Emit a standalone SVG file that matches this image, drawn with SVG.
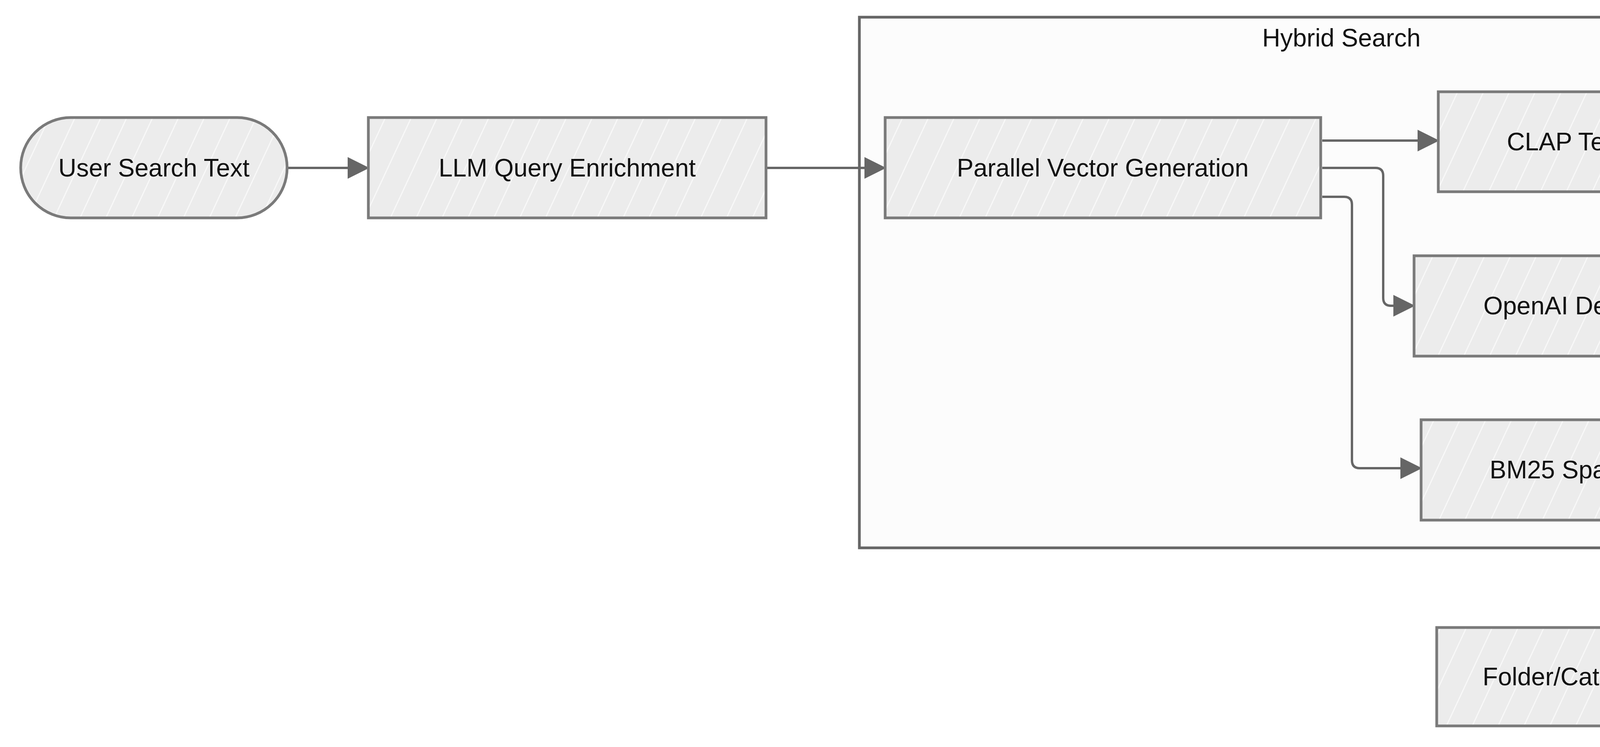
<svg xmlns="http://www.w3.org/2000/svg" width="6940" height="1913" viewBox="0 0 6940 1913">
<style>
.n{fill:url(#h);stroke:#7a7a7a;stroke-width:7}
.t{font-family:"Liberation Sans",Arial,sans-serif;font-size:64px;fill:#111;text-anchor:middle;dominant-baseline:central}
.c{fill:none;stroke:#666;stroke-width:6}
</style>
<defs>
<pattern id="h" width="60" height="60" patternUnits="userSpaceOnUse" patternTransform="rotate(25)">
<rect width="60" height="60" fill="#ececec"/>
<line x1="0" y1="0" x2="0" y2="60" stroke="#f8f8f8" stroke-width="6"/>
</pattern>
<marker id="a" viewBox="0 0 10 10" refX="9" refY="5" markerWidth="56" markerHeight="56" markerUnits="userSpaceOnUse" orient="auto">
<path d="M0,0L10,5L0,10z" fill="#666"/>
</marker>
</defs>
<rect width="6940" height="1913" fill="#fff"/>
<g id="hybrid-search">
<rect x="2200" y="44" width="2461" height="1359" fill="#fcfcfc" stroke="#666" stroke-width="7"/>
<text class="t" x="3434" y="97">Hybrid Search</text>
</g>
<g id="connectors">
<path class="c" d="M735,430H940" marker-end="url(#a)"/>
<path class="c" d="M1961,430H2263" marker-end="url(#a)"/>
<path class="c" d="M3385,360H3679" marker-end="url(#a)"/>
<path class="c" d="M3385,430H3521q20,0 20,20V763q0,20 20,20H3617" marker-end="url(#a)"/>
<path class="c" d="M3385,504H3441q20,0 20,20V1179q0,20 20,20H3635" marker-end="url(#a)"/>
<path class="c" d="M4532,358H4990C5080,358 5140,390 5228,445" marker-end="url(#a)"/>
<path class="c" d="M4594,783H4773q20,0 20,-20V533q0,-20 20,-20H5168" marker-end="url(#a)"/>
<path class="c" d="M4576,1199H4875q20,0 20,-20V675q0,-20 20,-20H5168" marker-end="url(#a)"/>
<path class="c" d="M4532,1731H4981q20,0 20,-20V840q0,-20 20,-20C5100,815 5150,770 5228,725" marker-end="url(#a)"/>
<path class="c" d="M5842,584H6042" marker-end="url(#a)"/>
</g>
<g id="user-search-text"><rect class="n" x="53" y="301" width="682" height="257" rx="128"/><text class="t" x="394" y="430">User Search Text</text></g>
<g id="llm-query-enrichment"><rect class="n" x="943" y="301" width="1018" height="257"/><text class="t" x="1452" y="430">LLM Query Enrichment</text></g>
<g id="parallel-vector-generation"><rect class="n" x="2266" y="301" width="1115" height="257"/><text class="t" x="2823" y="430">Parallel Vector Generation</text></g>
<g id="clap-text-vector"><rect class="n" x="3682" y="235" width="850" height="256"/><text class="t" x="4107" y="363">CLAP Text Vector</text></g>
<g id="openai-dense-vector"><rect class="n" x="3620" y="655" width="974" height="257"/><text class="t" x="4107" y="783">OpenAI Dense Vector</text></g>
<g id="bm25-sparse-vector"><rect class="n" x="3638" y="1075" width="938" height="257"/><text class="t" x="4107" y="1203">BM25 Sparse Vector</text></g>
<g id="folder-category-filter"><rect class="n" x="3678" y="1607" width="854" height="252"/><text class="t" x="4105" y="1733">Folder/Category Filter</text></g>
<g id="hybrid-search-fusion"><path class="n" d="M5470,212L5842,584L5470,956L5103,584Z"/><text class="t" x="5470" y="532">Hybrid Search</text><text class="t" x="5470" y="636">Fusion</text></g>
<g id="ranked-audio-results"><rect class="n" x="6046" y="456" width="841" height="256" rx="128"/><text class="t" x="6466" y="584">Ranked Audio Results</text></g>
</svg>
